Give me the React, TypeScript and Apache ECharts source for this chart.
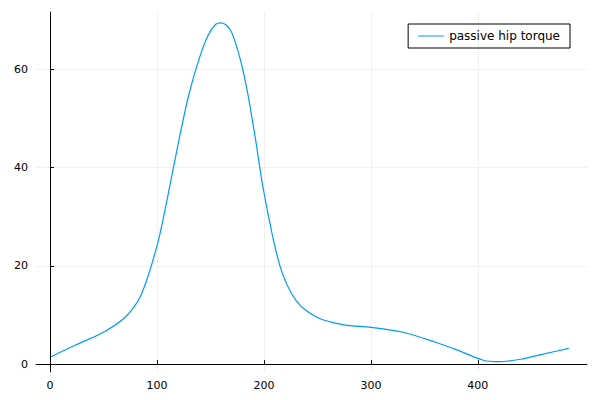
import React, { useEffect, useRef } from "react";
import * as echarts from "echarts";

const xs = [1, 25, 50, 70, 85, 100, 110, 120, 130, 140, 148, 155, 160, 165, 170, 178, 185, 192, 200, 215, 230, 250, 275, 300, 330, 360, 385, 405, 420, 440, 460, 485];
const ys = [1.5, 4, 6.5, 9.5, 14, 24, 34, 45, 55, 62.5, 67, 69.2, 69.5, 69, 67.5, 62, 55, 46, 35, 20, 13, 9.5, 8, 7.5, 6.5, 4.5, 2.5, 0.8, 0.5, 1, 2, 3.2];
const seriesName = "passive hip torque";

export default function App() {
  const ref = useRef<HTMLDivElement>(null);
  useEffect(() => {
    document.body.style.margin = "0";
    const chart = echarts.init(ref.current!, null, { renderer: "svg" });
    const axisCommon = {
      axisLine: { show: true, lineStyle: { color: "#000" } },
      axisTick: { show: true, inside: true, length: 4, lineStyle: { color: "#000" } },
      axisLabel: { color: "#000", fontSize: 11, fontFamily: "DejaVu Sans" },
      splitLine: { show: false },
    };
    chart.setOption({
      animation: false,
      grid: { left: 36, right: 13, top: 12, bottom: 28, containLabel: false },
      xAxis: { type: "value", min: -13, max: 502, ...axisCommon,
        axisLabel: { ...axisCommon.axisLabel, customValues: [0, 100, 200, 300, 400] },
        axisTick: { ...axisCommon.axisTick, customValues: [0, 100, 200, 300, 400] } },
      yAxis: { type: "value", min: -1.6, max: 71.7, ...axisCommon,
        axisLabel: { ...axisCommon.axisLabel, customValues: [0, 20, 40, 60] },
        axisTick: { ...axisCommon.axisTick, customValues: [0, 20, 40, 60] } },
      legend: {
        right: 30, top: 24, itemWidth: 26, itemHeight: 1,
        padding: [6, 10], borderColor: "#000", borderWidth: 1, borderRadius: 0,
        textStyle: { fontSize: 12, color: "#000", fontFamily: "DejaVu Sans" },
        icon: "rect",
        data: [seriesName],
      },
      series: [
        {
          name: seriesName, type: "line", smooth: 0.3, showSymbol: false,
          lineStyle: { color: "#009af9", width: 1.2 }, itemStyle: { color: "#009af9" },
          data: xs.map((x, i) => [x, ys[i]]),
          markLine: {
            silent: true, symbol: "none", label: { show: false },
            lineStyle: { color: "#f0f0f0", type: "solid", width: 1 },
            data: [0, 100, 200, 300, 400].map((v) => ({ xAxis: v }))
              .concat([0, 20, 40, 60].map((v) => ({ yAxis: v })) as any),
            z: 0,
          },
        },
      ],
    });
    return () => chart.dispose();
  }, []);
  return <div ref={ref} style={{ width: 600, height: 400 }} />;
}
